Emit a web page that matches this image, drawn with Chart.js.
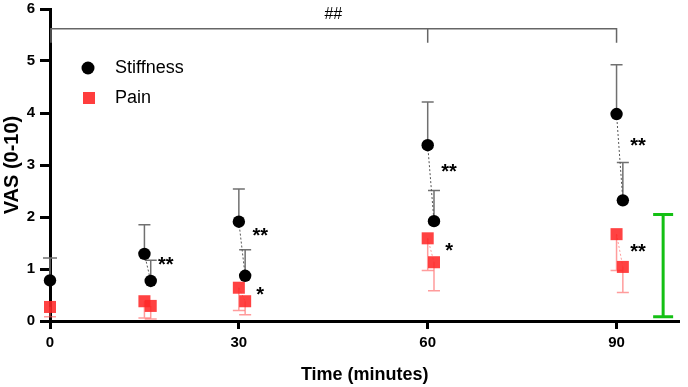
<!DOCTYPE html>
<html>
<head>
<meta charset="utf-8">
<script src="https://cdn.jsdelivr.net/npm/chart.js@4.4.1/dist/chart.umd.min.js"></script>
<style>
  html, body { margin: 0; padding: 0; background: #fff; }
  #wrap { width: 688px; height: 387px; position: relative; }
</style>
</head>
<body>
<div id="wrap"><canvas id="vas-chart"></canvas></div>
<script>
// Time points (minutes): first reading at each visit, second reading just after
const preTimes = [0, 15, 30, 60, 90];
const postTimes = [16, 31, 61, 91];
const xTicks = [0, 30, 60, 90];

// Stiffness (mean, upper SD end)
const stiffPre = [0.78, 1.29, 1.91, 3.38, 3.98];
const stiffPreUpper = [1.21, 1.85, 2.54, 4.21, 4.93];
const stiffPost = [0.77, 0.87, 1.92, 2.32];
const stiffPostUpper = [1.17, 1.37, 2.51, 3.05];

// Pain (mean, lower SD end)
const painPre = [0.27, 0.38, 0.64, 1.59, 1.67];
const painPreLower = [0.08, 0.06, 0.20, 0.97, 0.97];
const painPost = [0.29, 0.38, 1.13, 1.04];
const painPostLower = [0.04, 0.12, 0.58, 0.55];

// Significance marks next to the post readings (label, height on VAS axis)
const stiffStars = ['**', '**', '**', '**'];
const stiffStarY = [1.14, 1.70, 2.93, 3.42];
const painStars = ['', '*', '*', '**'];
const painStarY = [0, 0.56, 1.40, 1.38];

// Reference range bar (green) and bracket
const rangeBar = { x: 97.4, low: 0.08, high: 2.05 };
const bracket = { from: 0, mid: 60, to: 90, y: 5.62, drop: 0.27, label: '##' };

const FONT = "'Liberation Sans', Arial, sans-serif";
Chart.defaults.font.family = FONT;

const toPoints = (xs, ys) => xs.map((x, i) => ({ x: x, y: ys[i] }));

const overlayPlugin = {
    id: 'overlay',
    beforeDatasetsDraw(chart) {
        const ctx = chart.ctx;
        const xs = chart.scales.x, ys = chart.scales.y;
        const px = v => xs.getPixelForValue(v);
        const py = v => ys.getPixelForValue(v);

        function errBar(x, from, to, cap, color) {
            ctx.beginPath();
            ctx.moveTo(px(x), py(from));
            ctx.lineTo(px(x), py(to));
            ctx.moveTo(px(x) - cap / 2, py(to));
            ctx.lineTo(px(x) + cap / 2, py(to));
            ctx.strokeStyle = color;
            ctx.lineWidth = 1.5;
            ctx.stroke();
        }

        ctx.save();
        // stiffness error bars (upward)
        preTimes.forEach((t, i) => errBar(t, stiffPre[i], stiffPreUpper[i], i === 0 ? 14 : 12, '#707070'));
        postTimes.forEach((t, i) => errBar(t, stiffPost[i], stiffPostUpper[i], 12, '#707070'));
        // pain error bars (downward)
        preTimes.forEach((t, i) => errBar(t, painPre[i], painPreLower[i], 12, 'rgba(255,90,90,0.6)'));
        postTimes.forEach((t, i) => errBar(t, painPost[i], painPostLower[i], 12, 'rgba(255,90,90,0.6)'));

        // dotted connectors between paired readings
        ctx.setLineDash([2, 2]);
        ctx.lineWidth = 1;
        postTimes.forEach((t, i) => {
            ctx.beginPath();
            ctx.moveTo(px(preTimes[i + 1]), py(stiffPre[i + 1]));
            ctx.lineTo(px(t), py(stiffPost[i]));
            ctx.strokeStyle = '#555';
            ctx.stroke();
            ctx.beginPath();
            ctx.moveTo(px(preTimes[i + 1]), py(painPre[i + 1]));
            ctx.lineTo(px(t), py(painPost[i]));
            ctx.strokeStyle = 'rgba(255,90,90,0.6)';
            ctx.stroke();
        });
        ctx.restore();
    },
    afterDatasetsDraw(chart) {
        const ctx = chart.ctx;
        const xs = chart.scales.x, ys = chart.scales.y;
        const px = v => xs.getPixelForValue(v);
        const py = v => ys.getPixelForValue(v);
        const area = chart.chartArea;

        ctx.save();
        // stars
        ctx.fillStyle = '#000';
        ctx.font = 'bold 20px ' + FONT;
        ctx.textAlign = 'center';
        ctx.textBaseline = 'alphabetic';
        const starDx = 2.4;
        postTimes.forEach((t, i) => {
            const sx = px(t + starDx);
            if (stiffStars[i]) ctx.fillText(stiffStars[i], sx, py(stiffStarY[i]) + 9);
            if (painStars[i]) ctx.fillText(painStars[i], sx, py(painStarY[i]) + 9);
        });

        // bracket on top
        ctx.strokeStyle = '#666';
        ctx.lineWidth = 1.5;
        ctx.beginPath();
        ctx.moveTo(px(bracket.from) + 1, py(bracket.y - bracket.drop));
        ctx.lineTo(px(bracket.from) + 1, py(bracket.y));
        ctx.lineTo(px(bracket.to), py(bracket.y));
        ctx.lineTo(px(bracket.to), py(bracket.y - bracket.drop));
        ctx.moveTo(px(bracket.mid), py(bracket.y));
        ctx.lineTo(px(bracket.mid), py(bracket.y - bracket.drop));
        ctx.stroke();
        ctx.font = '16px ' + FONT;
        ctx.fillStyle = '#000';
        ctx.fillText(bracket.label, px((bracket.from + bracket.to) / 2), py(bracket.y) - 10);

        // green range bar
        ctx.strokeStyle = '#14C014';
        ctx.lineWidth = 3;
        const gx = px(rangeBar.x);
        ctx.beginPath();
        ctx.moveTo(gx, py(rangeBar.low));
        ctx.lineTo(gx, py(rangeBar.high));
        ctx.moveTo(gx - 10, py(rangeBar.low));
        ctx.lineTo(gx + 10, py(rangeBar.low));
        ctx.moveTo(gx - 10, py(rangeBar.high));
        ctx.lineTo(gx + 10, py(rangeBar.high));
        ctx.stroke();

        // legend inside the plot
        const lx = area.left + 38;
        ctx.fillStyle = '#000';
        ctx.beginPath();
        ctx.arc(lx, 68, 6.5, 0, Math.PI * 2);
        ctx.fill();
        ctx.fillStyle = 'rgba(255,40,40,0.9)';
        ctx.fillRect(lx - 5, 92, 12, 12);
        ctx.fillStyle = '#000';
        ctx.font = '18px ' + FONT;
        ctx.textAlign = 'left';
        ctx.textBaseline = 'middle';
        ctx.fillText('Stiffness', lx + 27, 68);
        ctx.fillText('Pain', lx + 27, 98);
        ctx.restore();
    }
};

const chart = new Chart(document.getElementById('vas-chart'), {
    type: 'scatter',
    data: {
        datasets: [
            {
                label: 'Stiffness',
                data: toPoints(preTimes, stiffPre).concat(toPoints(postTimes, stiffPost)),
                pointStyle: 'circle',
                pointRadius: 6.2,
                backgroundColor: '#000',
                borderColor: '#000',
                borderWidth: 0,
                clip: false
            },
            {
                label: 'Pain',
                data: toPoints(preTimes, painPre).concat(toPoints(postTimes, painPost)),
                pointStyle: 'rect',
                pointRadius: 8.5,
                backgroundColor: 'rgba(255,40,40,0.88)',
                borderColor: 'rgba(255,40,40,0.88)',
                borderWidth: 0,
                clip: false
            }
        ]
    },
    options: {
        responsive: true,
        maintainAspectRatio: false,
        animation: false,
        layout: { padding: { top: 9, right: 4, left: 0, bottom: 0 } },
        plugins: {
            legend: { display: false },
            tooltip: { enabled: false }
        },
        scales: {
            x: {
                type: 'linear',
                min: 0,
                max: 100,
                afterBuildTicks: scale => { scale.ticks = xTicks.map(v => ({ value: v })); },
                afterFit: scale => { scale.height = 66; scale.paddingLeft = 0; scale.paddingRight = 0; },
                border: { display: true, color: '#000', width: 3 },
                grid: { display: true, drawOnChartArea: false, drawTicks: true, tickLength: 8, tickWidth: 3, tickColor: '#000' },
                ticks: { color: '#000', padding: 5, font: { size: 15, weight: 'bold' } },
                title: {
                    display: true,
                    text: 'Time (minutes)',
                    color: '#000',
                    font: { size: 18, weight: 'bold' },
                    padding: { top: 0, bottom: 1 }
                }
            },
            y: {
                min: 0,
                max: 6,
                afterFit: scale => { scale.width = 50; scale.paddingTop = 0; scale.paddingBottom = 0; },
                border: { display: true, color: '#000', width: 3 },
                grid: { display: true, drawOnChartArea: false, drawTicks: true, tickLength: 10, tickWidth: 3, tickColor: '#000' },
                ticks: { stepSize: 1, color: '#000', padding: 5, font: { size: 15, weight: 'bold' } },
                title: {
                    display: true,
                    text: 'VAS (0-10)',
                    color: '#000',
                    font: { size: 20, weight: 'bold' },
                    padding: { top: 0, bottom: 0 }
                }
            }
        }
    },
    plugins: [overlayPlugin]
});
</script>
</body>
</html>
